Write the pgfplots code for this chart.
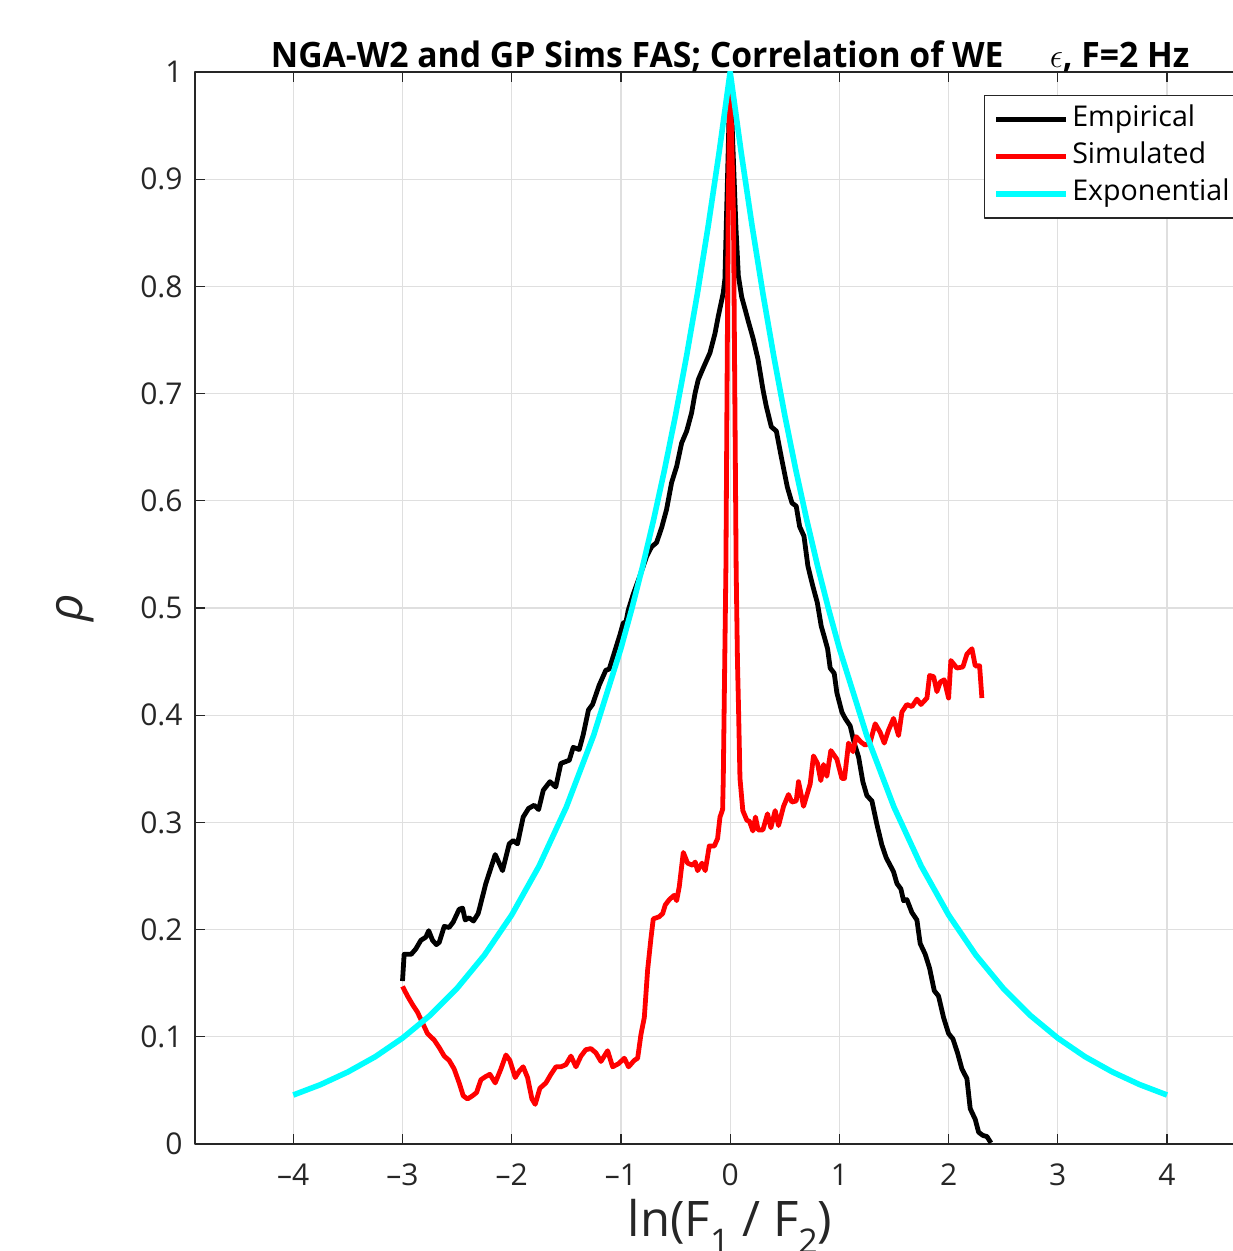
\documentclass[border=0pt]{standalone}
\usepackage{fontspec}
\setmainfont{Open Sans}
\usepackage{graphicx}
\usepackage{pgfplots}
\pgfplotsset{compat=1.18}
\definecolor{cyn}{rgb}{0,1,1}
\definecolor{rd}{rgb}{1,0,0}

\begin{document}
\begin{tikzpicture}
\begin{axis}[
  name=ax, at={(0,0)}, anchor=south west,
  scale only axis, width=535.15pt, height=536pt,
  xmin=-4.9, xmax=4.9, ymin=0, ymax=1,
  xtick={-4,-3,-2,-1,0,1,2,3,4},
  xticklabels={–4,–3,–2,–1,0,1,2,3,4},
  ytick={0,0.1,0.2,0.3,0.4,0.5,0.6,0.7,0.8,0.9,1},
  yticklabels={0,0.1,0.2,0.3,0.4,0.5,0.6,0.7,0.8,0.9,1},
  grid=major, major grid style={gray!25, line width=0.6pt},
  axis line style={draw=black!85, line width=0.6pt},
  tick style={black!85, line width=0.6pt}, tick align=inside, major tick length=5pt,
  ticklabel style={font=\fontsize{15}{18}\selectfont, text=black!85},
  xticklabel style={anchor=base, yshift=-20.5pt},
  yticklabel style={anchor=east, inner sep=0pt, xshift=-6pt},
  title={\scalebox{0.963}[1]{\bfseries NGA-W2 and GP Sims FAS; Correlation of WE\hspace{24pt}{\mdseries$\epsilon$}, F=2 Hz}},
  title style={at={(axis description cs:0.5,1)}, anchor=base, yshift=-4pt, font=\fontsize{17.5}{21}\selectfont, inner sep=0pt},
  xlabel={ln(F\raisebox{-0.35em}{\fontsize{17}{19}\selectfont 1} / F\raisebox{-0.35em}{\fontsize{17}{19}\selectfont 2})},
  xlabel style={at={(axis description cs:0.5,0)}, anchor=base, yshift=-46pt, font=\fontsize{24.5}{28}\selectfont, text=black!85, inner sep=0pt},
  ylabel={\itshape ρ},
  ylabel style={at={(axis description cs:-0.1121,0.5)}, anchor=center, font=\fontsize{24}{28}\selectfont, text=black!85, inner sep=0pt},
  legend style={at={(axis cs:2.324,0.9785)}, anchor=north west, draw=black!85, line width=0.7pt,
    font=\fontsize{14.3}{16}\selectfont, inner xsep=4.5pt, inner ysep=5.4pt, row sep=5.25pt, column sep=1.5pt,
    nodes={inner sep=0pt, text height=10pt, text depth=3.25pt}, cells={anchor=west}},
  legend image code/.code={\draw[#1] (0pt,0pt) -- (35pt,0pt);},
  line join=round,
]
\addplot[black, line width=2.4pt] coordinates {
(-3,0.152) (-2.985,0.177) (-2.92,0.177) (-2.878,0.182) (-2.832,0.19) (-2.786,0.193) (-2.76,0.199)
(-2.725,0.19) (-2.69,0.186) (-2.664,0.188) (-2.618,0.203) (-2.573,0.202) (-2.536,0.207) (-2.481,0.219)
(-2.45,0.22) (-2.426,0.209) (-2.39,0.211) (-2.35,0.208) (-2.307,0.215) (-2.237,0.243) (-2.151,0.27)
(-2.084,0.255) (-2.023,0.28) (-1.986,0.283) (-1.947,0.28) (-1.895,0.305) (-1.846,0.313) (-1.794,0.316)
(-1.754,0.312) (-1.711,0.33) (-1.65,0.338) (-1.597,0.333) (-1.55,0.355) (-1.473,0.358) (-1.437,0.37)
(-1.382,0.368) (-1.345,0.382) (-1.297,0.405) (-1.26,0.41) (-1.199,0.428) (-1.138,0.442) (-1.107,0.443)
(-1.04,0.465) (-1.009,0.475) (-0.979,0.486) (-0.954,0.487) (-0.933,0.498) (-0.887,0.513) (-0.826,0.53)
(-0.765,0.548) (-0.72,0.557) (-0.674,0.561) (-0.627,0.575) (-0.582,0.592) (-0.536,0.617) (-0.49,0.632)
(-0.444,0.654) (-0.398,0.665) (-0.353,0.682) (-0.322,0.7) (-0.292,0.713) (-0.246,0.724) (-0.185,0.738)
(-0.139,0.756) (-0.109,0.772) (-0.063,0.794) (-0.048,0.807) (-0.036,0.855) (-0.02,0.917) (0,1.0)
(0.03,0.917) (0.053,0.855) (0.075,0.81) (0.106,0.79) (0.133,0.78) (0.17,0.766) (0.209,0.752)
(0.255,0.732) (0.3,0.704) (0.331,0.688) (0.377,0.669) (0.423,0.665) (0.468,0.641) (0.523,0.613)
(0.566,0.598) (0.605,0.595) (0.636,0.576) (0.676,0.567) (0.712,0.539) (0.758,0.52) (0.798,0.505)
(0.834,0.483) (0.865,0.472) (0.892,0.462) (0.916,0.444) (0.953,0.439) (0.977,0.421) (1.023,0.403)
(1.053,0.397) (1.099,0.39) (1.136,0.374) (1.176,0.361) (1.215,0.338) (1.252,0.325) (1.298,0.32)
(1.344,0.298) (1.389,0.279) (1.429,0.267) (1.496,0.254) (1.527,0.243) (1.563,0.238) (1.588,0.227)
(1.618,0.228) (1.664,0.216) (1.71,0.209) (1.74,0.187) (1.786,0.177) (1.826,0.164) (1.869,0.143)
(1.908,0.138) (1.954,0.118) (2.0,0.103) (2.04,0.098) (2.082,0.085) (2.122,0.07) (2.168,0.061)
(2.198,0.033) (2.244,0.023) (2.275,0.011) (2.314,0.008) (2.351,0.007) (2.388,0.001)
};
\addlegendentry{Empirical}
\addplot[rd, line width=2.4pt] coordinates {
(-3,0.147) (-2.954,0.138) (-2.908,0.13) (-2.863,0.123) (-2.817,0.113) (-2.771,0.103) (-2.71,0.097)
(-2.664,0.09) (-2.618,0.082) (-2.573,0.078) (-2.527,0.07) (-2.481,0.057) (-2.444,0.045) (-2.405,0.042)
(-2.359,0.045) (-2.322,0.048) (-2.282,0.06) (-2.237,0.063) (-2.2,0.065) (-2.151,0.057) (-2.099,0.07)
(-2.053,0.083) (-2.017,0.078) (-1.968,0.062) (-1.931,0.068) (-1.895,0.072) (-1.855,0.062) (-1.815,0.042)
(-1.785,0.037) (-1.742,0.052) (-1.687,0.057) (-1.641,0.065) (-1.595,0.072) (-1.55,0.072) (-1.504,0.074)
(-1.458,0.082) (-1.412,0.072) (-1.366,0.082) (-1.321,0.088) (-1.275,0.089) (-1.229,0.085) (-1.183,0.077)
(-1.122,0.087) (-1.076,0.072) (-1.021,0.075) (-0.969,0.08) (-0.93,0.072) (-0.878,0.078) (-0.847,0.08)
(-0.817,0.102) (-0.786,0.118) (-0.756,0.162) (-0.725,0.192) (-0.704,0.21) (-0.649,0.212) (-0.618,0.215)
(-0.594,0.223) (-0.557,0.228) (-0.512,0.232) (-0.49,0.227) (-0.466,0.24) (-0.429,0.272) (-0.39,0.262)
(-0.344,0.26) (-0.32,0.263) (-0.298,0.255) (-0.258,0.262) (-0.228,0.255) (-0.191,0.278) (-0.145,0.278)
(-0.115,0.285) (-0.093,0.305) (-0.069,0.312) (-0.063,0.34) (-0.039,0.536) (-0.018,0.87) (0,1.0)
(0.03,0.87) (0.055,0.536) (0.067,0.45) (0.076,0.41) (0.09,0.341) (0.116,0.311) (0.153,0.302)
(0.177,0.301) (0.208,0.292) (0.232,0.305) (0.256,0.293) (0.3,0.293) (0.342,0.308) (0.373,0.295)
(0.412,0.311) (0.443,0.297) (0.489,0.315) (0.534,0.326) (0.565,0.319) (0.605,0.32) (0.626,0.338)
(0.672,0.315) (0.733,0.336) (0.763,0.362) (0.8,0.355) (0.83,0.339) (0.855,0.354) (0.885,0.343)
(0.922,0.367) (0.977,0.359) (1.023,0.341) (1.047,0.341) (1.084,0.374) (1.124,0.366) (1.154,0.38)
(1.197,0.375) (1.237,0.372) (1.282,0.375) (1.328,0.392) (1.374,0.384) (1.411,0.374) (1.45,0.386)
(1.496,0.397) (1.542,0.381) (1.573,0.403) (1.618,0.41) (1.664,0.408) (1.71,0.415) (1.747,0.41)
(1.802,0.416) (1.826,0.437) (1.863,0.436) (1.893,0.422) (1.924,0.431) (1.96,0.433) (2.0,0.416)
(2.021,0.451) (2.076,0.444) (2.131,0.445) (2.168,0.457) (2.214,0.462) (2.244,0.446) (2.284,0.446)
(2.305,0.416)
};
\addlegendentry{Simulated}
\addplot[cyn, line width=2.8pt] coordinates {
(-4,0.0457) (-3.75,0.0554) (-3.5,0.0672) (-3.25,0.0814) (-3,0.0988) (-2.75,0.1198) (-2.5,0.1453)
(-2.25,0.1762) (-2,0.2137) (-1.75,0.2592) (-1.5,0.3143) (-1.25,0.3812) (-1,0.4623) (-0.9,0.4994)
(-0.8,0.5394) (-0.7,0.5827) (-0.6,0.6294) (-0.5,0.6799) (-0.4,0.7345) (-0.3,0.7933) (-0.2,0.8570)
(-0.1,0.9257) (0,1) (0.1,0.9257) (0.2,0.8570) (0.3,0.7933) (0.4,0.7345) (0.5,0.6799) (0.6,0.6294)
(0.7,0.5827) (0.8,0.5394) (0.9,0.4994) (1,0.4623) (1.25,0.3812) (1.5,0.3143) (1.75,0.2592)
(2,0.2137) (2.25,0.1762) (2.5,0.1453) (2.75,0.1198) (3,0.0988) (3.25,0.0814) (3.5,0.0672)
(3.75,0.0554) (4,0.0457)
};
\addlegendentry{Exponential}
\end{axis}
\pgfresetboundingbox
\path[use as bounding box] ([xshift=-97.5pt,yshift=-53.5pt]ax.south west) rectangle ([xshift=518.5pt,yshift=572pt]ax.south west);
\end{tikzpicture}
\end{document}
